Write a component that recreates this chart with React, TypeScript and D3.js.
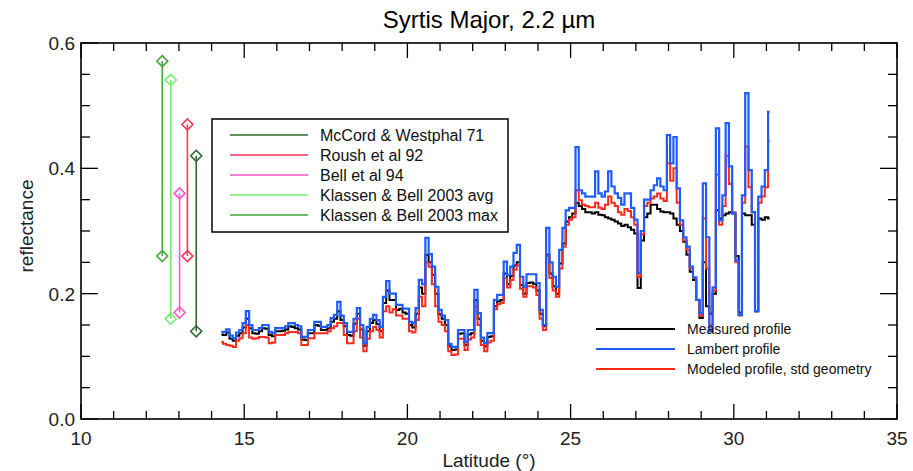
import React from "react";
import * as d3 from "d3";

const TITLE = "Syrtis Major, 2.2 \u00b5m";
const X_LABEL = "Latitude (\u00b0)";
const Y_LABEL = "reflectance";
const X_TICKS = [10, 15, 20, 25, 30, 35];
const Y_TICKS = [0.0, 0.2, 0.4, 0.6];

// Published reflectance ranges (latitude position, low, high)
const REF_NAMES = ["McCord & Westphal 71", "Roush et al 92", "Bell et al 94", "Klassen & Bell 2003 avg", "Klassen & Bell 2003 max"];
const REF_COLORS = ["#2f6a2f", "#ff3358", "#ff55c8", "#6cf06c", "#45a83a"];
const REF_LAT = [13.53, 13.26, 13.02, 12.75, 12.49];
const REF_LOW = [0.14, 0.26, 0.17, 0.16, 0.26];
const REF_HIGH = [0.42, 0.47, 0.36, 0.541, 0.571];

// profiles sampled every 0.1 deg from 14.3 to 31.1
const LAT_START = 14.3;
const LAT_STEP = 0.1;

const LAMBERT = [
  0.139, 0.139, 0.143, 0.133, 0.129, 0.138, 0.142, 0.153, 0.172, 0.150,
  0.142, 0.142, 0.145, 0.150, 0.150, 0.139, 0.137, 0.145, 0.145, 0.145,
  0.148, 0.153, 0.153, 0.150, 0.148, 0.131, 0.131, 0.142, 0.142, 0.155,
  0.155, 0.147, 0.147, 0.150, 0.161, 0.166, 0.187, 0.165, 0.153, 0.139,
  0.139, 0.160, 0.177, 0.150, 0.121, 0.147, 0.160, 0.166, 0.158, 0.147,
  0.195, 0.220, 0.200, 0.200, 0.182, 0.182, 0.176, 0.176, 0.155, 0.153,
  0.177, 0.222, 0.215, 0.289, 0.263, 0.243, 0.211, 0.174, 0.165, 0.158,
  0.120, 0.115, 0.115, 0.142, 0.142, 0.123, 0.142, 0.142, 0.206, 0.169,
  0.130, 0.121, 0.137, 0.137, 0.190, 0.198, 0.198, 0.251, 0.230, 0.243,
  0.265, 0.278, 0.227, 0.211, 0.231, 0.231, 0.231, 0.217, 0.174, 0.150,
  0.305, 0.250, 0.227, 0.211, 0.270, 0.305, 0.333, 0.337, 0.337, 0.434,
  0.365, 0.360, 0.355, 0.355, 0.355, 0.395, 0.360, 0.355, 0.363, 0.395,
  0.371, 0.360, 0.353, 0.342, 0.360, 0.360, 0.337, 0.318, 0.233, 0.300,
  0.350, 0.350, 0.365, 0.373, 0.384, 0.371, 0.365, 0.453, 0.408, 0.450,
  0.368, 0.317, 0.290, 0.275, 0.243, 0.226, 0.190, 0.169, 0.376, 0.290,
  0.140, 0.210, 0.464, 0.317, 0.357, 0.472, 0.403, 0.328, 0.253, 0.166,
  0.357, 0.520, 0.397, 0.330, 0.172, 0.355, 0.371, 0.397, 0.490,
];

const MEASURED = [
  0.135, 0.134, 0.138, 0.128, 0.125, 0.133, 0.137, 0.146, 0.160, 0.145,
  0.137, 0.136, 0.140, 0.145, 0.144, 0.134, 0.132, 0.140, 0.140, 0.141,
  0.143, 0.148, 0.147, 0.145, 0.143, 0.127, 0.126, 0.137, 0.137, 0.150,
  0.149, 0.142, 0.142, 0.145, 0.155, 0.160, 0.172, 0.158, 0.148, 0.134,
  0.133, 0.152, 0.168, 0.143, 0.117, 0.140, 0.153, 0.158, 0.151, 0.140,
  0.185, 0.205, 0.190, 0.190, 0.174, 0.176, 0.170, 0.168, 0.150, 0.146,
  0.168, 0.210, 0.200, 0.262, 0.250, 0.230, 0.200, 0.167, 0.160, 0.150,
  0.116, 0.110, 0.111, 0.136, 0.137, 0.118, 0.135, 0.137, 0.190, 0.160,
  0.125, 0.116, 0.131, 0.132, 0.180, 0.188, 0.190, 0.232, 0.215, 0.228,
  0.245, 0.250, 0.214, 0.200, 0.217, 0.218, 0.216, 0.205, 0.168, 0.148,
  0.262, 0.232, 0.212, 0.200, 0.248, 0.280, 0.315, 0.322, 0.328, 0.345,
  0.340, 0.335, 0.330, 0.330, 0.328, 0.330, 0.326, 0.325, 0.322, 0.320,
  0.318, 0.315, 0.312, 0.308, 0.310, 0.306, 0.302, 0.296, 0.209, 0.285,
  0.322, 0.328, 0.342, 0.342, 0.335, 0.331, 0.330, 0.330, 0.328, 0.320,
  0.310, 0.300, 0.283, 0.262, 0.235, 0.222, 0.190, 0.161, 0.250, 0.180,
  0.168, 0.200, 0.333, 0.320, 0.325, 0.328, 0.330, 0.328, 0.260, 0.170,
  0.328, 0.325, 0.325, 0.310, 0.172, 0.320, 0.318, 0.322, 0.320,
];

const MODELED = [
  0.123, 0.120, 0.118, 0.117, 0.115, 0.125, 0.129, 0.137, 0.150, 0.130,
  0.128, 0.129, 0.131, 0.131, 0.130, 0.121, 0.122, 0.134, 0.134, 0.134,
  0.137, 0.139, 0.139, 0.139, 0.137, 0.118, 0.118, 0.129, 0.129, 0.137,
  0.137, 0.137, 0.137, 0.140, 0.145, 0.148, 0.153, 0.153, 0.134, 0.121,
  0.121, 0.140, 0.160, 0.130, 0.108, 0.128, 0.140, 0.147, 0.142, 0.130,
  0.172, 0.180, 0.170, 0.175, 0.165, 0.165, 0.160, 0.160, 0.140, 0.138,
  0.158, 0.195, 0.180, 0.250, 0.243, 0.215, 0.180, 0.155, 0.150, 0.140,
  0.108, 0.102, 0.103, 0.128, 0.128, 0.110, 0.127, 0.130, 0.180, 0.150,
  0.118, 0.108, 0.122, 0.125, 0.175, 0.183, 0.185, 0.225, 0.210, 0.222,
  0.238, 0.245, 0.208, 0.195, 0.212, 0.212, 0.210, 0.198, 0.160, 0.142,
  0.260, 0.225, 0.205, 0.195, 0.240, 0.275, 0.310, 0.318, 0.322, 0.365,
  0.349, 0.342, 0.340, 0.338, 0.338, 0.345, 0.337, 0.335, 0.342, 0.355,
  0.345, 0.340, 0.330, 0.326, 0.335, 0.332, 0.322, 0.310, 0.227, 0.295,
  0.340, 0.345, 0.352, 0.355, 0.360, 0.352, 0.348, 0.408, 0.380, 0.400,
  0.345, 0.310, 0.285, 0.270, 0.240, 0.225, 0.190, 0.165, 0.320, 0.240,
  0.150, 0.205, 0.390, 0.310, 0.340, 0.420, 0.375, 0.330, 0.250, 0.165,
  0.345, 0.435, 0.370, 0.330, 0.172, 0.345, 0.355, 0.370, 0.444,
];

const PROFILE_NAMES = ["Measured profile", "Lambert profile", "Modeled profile, std geometry"];
const PROFILE_COLORS = ["#000000", "#1f5cff", "#ff2a1a"];

const W = 913;
const H = 471;
const L = 81, R = 897, T = 43, B = 419;
const FONT = "'Liberation Sans', Arial, sans-serif";

export default function App() {
  const x = d3.scaleLinear().domain([10, 35]).range([L, R]);
  const y = d3.scaleLinear().domain([0, 0.6]).range([B, T]);
  const n = Math.min(LAMBERT.length, MEASURED.length, MODELED.length);
  const lat = d3.range(n).map((i) => LAT_START + i * LAT_STEP);
  const line = (vals: number[]) =>
    d3
      .line<number>()
      .x((_, i) => x(lat[i]))
      .y((v) => y(v))
      .curve(d3.curveStep)(vals.slice(0, n)) || "";

  const xMinor = d3.range(10, 35.01, 1);
  const yMinor = d3.range(0, 0.601, 0.05);
  const diamond = (cx: number, cy: number, r: number) =>
    `M${cx},${cy - r}L${cx + r},${cy}L${cx},${cy + r}L${cx - r},${cy}Z`;

  const legRows = [135, 155, 175, 195, 215];
  const profRows = [329, 349, 369];

  return (
    <svg width={W} height={H} style={{ position: "absolute", left: 0, top: 0, background: "#fff" }} fontFamily={FONT}>
      <rect x={0} y={0} width={W} height={H} fill="#fff" />
      <text x={(L + R) / 2} y={28} textAnchor="middle" fontSize={24}>{TITLE}</text>

      {/* frame ticks */}
      <g stroke="#000" strokeWidth={1.3}>
        {xMinor.map((v) => {
          const major = X_TICKS.some((t) => Math.abs(t - v) < 1e-6);
          const len = major ? 15 : 8;
          return (
            <g key={"xt" + v}>
              <line x1={x(v)} x2={x(v)} y1={B} y2={B - len} />
              <line x1={x(v)} x2={x(v)} y1={T} y2={T + len} />
            </g>
          );
        })}
        {yMinor.map((v) => {
          const major = Y_TICKS.some((t) => Math.abs(t - v) < 1e-6);
          const len = major ? 17 : 9;
          return (
            <g key={"yt" + v}>
              <line x1={L} x2={L + len} y1={y(v)} y2={y(v)} />
              <line x1={R} x2={R - len} y1={y(v)} y2={y(v)} />
            </g>
          );
        })}
      </g>
      <rect x={L} y={T} width={R - L} height={B - T} fill="none" stroke="#000" strokeWidth={1.6} />

      {X_TICKS.map((t) => (
        <text key={"xl" + t} x={x(t)} y={B + 26} textAnchor="middle" fontSize={19} fill="#222">{t}</text>
      ))}
      {Y_TICKS.map((t) => (
        <text key={"yl" + t} x={L - 6} y={y(t) + 7} textAnchor="end" fontSize={19} fill="#222">{t.toFixed(1)}</text>
      ))}
      <text x={(L + R) / 2} y={B + 48} textAnchor="middle" fontSize={19} fill="#222">{X_LABEL}</text>
      <text transform={`translate(33,${(T + B) / 2 - 5}) rotate(-90)`} textAnchor="middle" fontSize={19} fill="#222">{Y_LABEL}</text>

      {/* reference ranges */}
      {REF_NAMES.map((nm, i) => (
        <g key={"ref" + i} stroke={REF_COLORS[i]} strokeWidth={1.6} fill="none">
          <line x1={x(REF_LAT[i])} x2={x(REF_LAT[i])} y1={y(REF_LOW[i])} y2={y(REF_HIGH[i])} />
          <path d={diamond(x(REF_LAT[i]), y(REF_LOW[i]), 5.5)} />
          <path d={diamond(x(REF_LAT[i]), y(REF_HIGH[i]), 5.5)} />
        </g>
      ))}

      {/* legend box */}
      <rect x={212} y={119} width={296} height={113} fill="#fff" stroke="#000" strokeWidth={1.5} />
      {REF_NAMES.map((nm, i) => (
        <g key={"leg" + i}>
          <line x1={230} x2={308} y1={legRows[i]} y2={legRows[i]} stroke={REF_COLORS[i]} strokeWidth={1.6} />
          <text x={320} y={legRows[i] + 6} fontSize={16} fill="#111">{nm}</text>
        </g>
      ))}

      {/* profiles: measured underneath, then modeled, Lambert on top */}
      <path d={line(MEASURED)} fill="none" stroke={PROFILE_COLORS[0]} strokeWidth={2} />
      <path d={line(MODELED)} fill="none" stroke={PROFILE_COLORS[2]} strokeWidth={2} />
      <path d={line(LAMBERT)} fill="none" stroke={PROFILE_COLORS[1]} strokeWidth={2.2} />

      {PROFILE_NAMES.map((nm, i) => (
        <g key={"pl" + i}>
          <line x1={596} x2={675} y1={profRows[i]} y2={profRows[i]} stroke={PROFILE_COLORS[i]} strokeWidth={2} />
          <text x={687} y={profRows[i] + 5} fontSize={14} fill="#111">{nm}</text>
        </g>
      ))}
    </svg>
  );
}
